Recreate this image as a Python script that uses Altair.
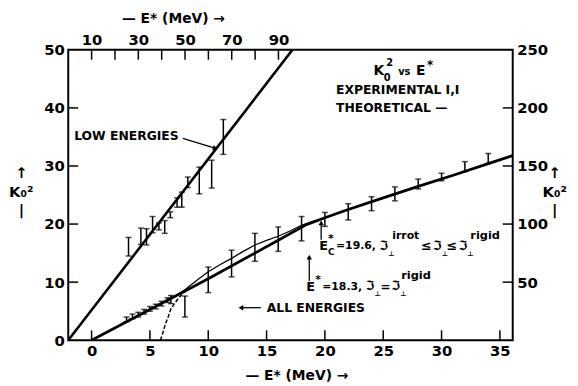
import altair as alt
import pandas as pd

# ---------------- data ----------------
# low-energy experimental points (top axis E*, MeV)
LOW_E = [25.8, 31.1, 33.5, 36.1, 38.8, 41.3, 43.7, 46.6, 48.6, 51.2, 56.1, 61.4, 66.4]
LOW_K = [16.1, 17.9, 17.8, 19.9, 19.6, 19.5, 21.6, 23.7, 24.2, 27.2, 27.5, 28.6, 35.0]
LOW_ERR = [1.6, 1.4, 1.4, 1.4, 0.6, 1.1, 0.5, 0.8, 1.3, 0.9, 2.3, 2.4, 3.0]
LOW_LINE_E = [0, 96]
LOW_LINE_K = [0, 50]

# all-energy experimental points (bottom axis E*, MeV)
ALL_E = [3, 3.5, 4, 4.5, 5, 5.5, 6, 6.5, 6.8, 8, 10, 12, 14, 16, 18, 20, 22, 24, 26, 28, 30, 32, 34]
ALL_K = [3.6, 4.1, 4.4, 4.9, 5.4, 5.8, 6.3, 6.9, 7.0, 5.8, 10.4, 13.2, 16.0, 17.4, 19.2, 20.8,
         22.1, 23.5, 25.2, 26.9, 28.1, 29.9, 31.3]
ALL_ERR = [0.4, 0.4, 0.4, 0.4, 0.4, 0.4, 0.4, 0.4, 0.7, 1.8, 2.2, 2.3, 2.4, 2.1, 2.1, 1.2,
           1.4, 1.2, 1.2, 0.85, 0.65, 0.85, 0.85]

# theoretical curves
THICK_E = [0, 5, 10, 14, 16, 18.3, 20, 22, 25, 28, 31, 34, 36.1]
THICK_K = [0, 5.3, 10.6, 15.0, 17.2, 19.8, 21.1, 22.5, 24.5, 26.5, 28.4, 30.4, 31.8]
THIN_E = [7.5, 8, 9, 10, 11, 12, 13, 14, 15, 16, 17, 18, 19, 19.6]
THIN_K = [8.0, 8.7, 10.3, 11.8, 13.0, 14.1, 15.3, 16.4, 17.2, 17.9, 18.8, 19.8, 20.5, 20.8]
DASH_E = [5.9, 6.1, 6.3, 6.6, 6.8, 7.1, 7.4, 7.8, 8.3]
DASH_K = [0, 1.2, 2.6, 4.2, 5.4, 6.3, 7.1, 8.0, 8.9]

# axes
BOTTOM_LABELS = [0, 5, 10, 15, 20, 25, 30, 35]
LEFT_LABELS = [0, 10, 20, 30, 40, 50]
TOP_LABELS = [10, 30, 50, 70, 90]
TOP_TICKS = [10, 20, 30, 40, 50, 60, 70, 80, 90]
RIGHT_LABELS = [50, 100, 150, 200, 250]
RIGHT_TICKS = [50, 100, 150, 200]
LEFT_TICKS = [10, 20, 30, 40]

# annotations (E, K, text, size)
ANN_E = [-1.49, 24.16, 25.05, 25.27, 26.28, 27.8, 28.75, 20.95, 20.95, 15.02,
         19.51, 20.27, 20.27, 20.95, 24.67, 25.43, 25.77, 28.23, 29.25, 30.01, 30.43, 31.45, 32.21, 32.47,
         18.41, 19.17, 19.77, 23.49, 24.25, 24.76, 25.69, 26.45, 26.54]
ANN_K = [35.2, 46.4, 45.2, 47.7, 46.1, 46.4, 47.4, 43.0, 40.0, 5.6,
         16.2, 15.1, 17.5, 16.2, 16.3, 14.9, 18.0, 16.2, 16.3, 14.9, 16.2, 16.3, 14.9, 18.0,
         9.2, 10.4, 9.2, 9.3, 8.0, 9.2, 9.3, 8.0, 11.05]
ANN_T = ["LOW ENERGIES", "K", "0", "2", "vs", "E", "*", "EXPERIMENTAL  I,I", "THEORETICAL —", "ALL  ENERGIES",
         "E", "C", "*", "=19.6,", "ℑ", "⊥", "irrot", "≤", "ℑ", "⊥", "≤", "ℑ", "⊥", "rigid",
         "E", "*", "=18.3,", "ℑ", "⊥", "=", "ℑ", "⊥", "rigid"]
ANN_S = [12.5, 14, 10, 10, 10, 14, 12, 12.5, 12.5, 12.5,
         13, 9, 11, 11, 13, 7, 11, 13, 13, 7, 13, 13, 7, 11.5,
         13, 11, 11, 13, 7, 12, 13, 7, 11.5]

# arrows (id, E, K) and heads (E, K, angle)
ARR_ID = ["low", "low", "all", "all", "ec", "ec", "e18", "e18"]
ARR_E = [7.82, 10.5, 12.9, 14.5, 19.68, 19.68, 18.66, 18.66]
ARR_K = [34.75, 33.1, 5.6, 5.6, 17.3, 20.0, 10.2, 14.0]
HEAD_E = [10.6, 12.8, 19.68, 18.66]
HEAD_K = [33.05, 5.6, 20.2, 14.3]
HEAD_A = [106, 270, 0, 0]

# ---------------- tables ----------------
low_df = pd.DataFrame({"Et": LOW_E, "K": LOW_K, "err": LOW_ERR})
low_df["lo"] = low_df.K - low_df.err
low_df["hi"] = low_df.K + low_df.err
low_line = pd.DataFrame({"Et": LOW_LINE_E, "K": LOW_LINE_K})

all_df = pd.DataFrame({"E": ALL_E, "K": ALL_K, "err": ALL_ERR})
all_df["lo"] = all_df.K - all_df.err
all_df["hi"] = all_df.K + all_df.err
thick = pd.DataFrame({"E": THICK_E, "K": THICK_K})
thin = pd.DataFrame({"E": THIN_E, "K": THIN_K})
dash = pd.DataFrame({"E": DASH_E, "K": DASH_K})
ann = pd.DataFrame({"E": ANN_E, "K": ANN_K, "t": ANN_T, "s": ANN_S})
arr = pd.DataFrame({"id": ARR_ID, "E": ARR_E, "K": ARR_K, "o": list(range(len(ARR_ID)))})
heads = pd.DataFrame({"E": HEAD_E, "K": HEAD_K, "a": HEAD_A})

bt = pd.DataFrame({"E": BOTTOM_LABELS, "K": 0.0, "K2": 1.7})
lt = pd.DataFrame({"E": -2.0, "E2": -1.15, "K": LEFT_TICKS})
rt = pd.DataFrame({"E": 35.25, "E2": 36.1, "K": [v / 5 for v in RIGHT_TICKS]})
tt = pd.DataFrame({"Et": TOP_TICKS, "K": 48.3, "K2": 50.0})

FONT = "DejaVu Sans"

bottom_axis = alt.Axis(orient="bottom", values=BOTTOM_LABELS, format="d",
                       title="— E* (MeV) →", titleX=231, titleY=36, titleAlign="center",
                       titleBaseline="middle", titleAngle=0, labelPadding=3)
left_axis = alt.Axis(orient="left", values=LEFT_LABELS, format="d",
                     title=["↑", "K₀²", "|"], titleX=-48, titleY=124, titleAngle=0,
                     titleAlign="center", titleBaseline="middle", titleLineHeight=19,
                     titleFontSize=15, labelPadding=4)
top_axis = alt.Axis(orient="top", values=TOP_LABELS, format="d",
                    title="— E* (MeV) →", titleX=106, titleY=-32, titleAlign="center",
                    titleBaseline="middle", titleAngle=0, labelPadding=2)
right_axis = alt.Axis(orient="right", values=RIGHT_LABELS, format="d",
                      title=["↑", "K₀²", "|"], titleX=42, titleY=124, titleAngle=0,
                      titleAlign="center", titleBaseline="middle", titleLineHeight=19,
                      titleFontSize=15, labelPadding=4)

xs = alt.Scale(domain=[-2, 36.1], nice=False, zero=False)
ys = alt.Scale(domain=[0, 50], nice=False, zero=False)
xts = alt.Scale(domain=[0, 190.3], nice=False, zero=False)


def XB(f="E"):
    return alt.X(f"{f}:Q", scale=xs, axis=bottom_axis)


def YL(f="K"):
    return alt.Y(f"{f}:Q", scale=ys, axis=left_axis)


def XT(f="Et"):
    return alt.X(f"{f}:Q", scale=xts, axis=top_axis)


def YT(f="K"):
    return alt.Y(f"{f}:Q", scale=ys, axis=None)


# ---------- bottom-axis layer ----------
a_bars = alt.Chart(all_df).mark_rule(strokeWidth=1.5, color="black").encode(
    x=XB(), y=YL("lo"), y2="hi")
a_cap1 = alt.Chart(all_df).mark_tick(orient="horizontal", size=6, thickness=1.5, color="black").encode(
    x=XB(), y=YL("lo"))
a_cap2 = alt.Chart(all_df).mark_tick(orient="horizontal", size=6, thickness=1.5, color="black").encode(
    x=XB(), y=YL("hi"))
thick_l = alt.Chart(thick).mark_line(strokeWidth=2.8, color="black", clip=True).encode(x=XB(), y=YL())
thin_l = alt.Chart(thin).mark_line(strokeWidth=1.3, color="black", clip=True).encode(x=XB(), y=YL())
dash_l = alt.Chart(dash).mark_line(strokeWidth=1.5, color="black", strokeDash=[4, 2], clip=True).encode(
    x=XB(), y=YL())
texts = alt.Chart(ann).mark_text(font=FONT, fontWeight="bold", align="left", baseline="middle",
                                 color="black").encode(
    x=XB(), y=YL(), text="t:N", size=alt.Size("s:Q", scale=None, legend=None))
arrows = alt.Chart(arr).mark_line(strokeWidth=1.3, color="black").encode(
    x=XB(), y=YL(), detail="id:N", order="o:Q")
arrowheads = alt.Chart(heads).mark_point(shape="triangle-up", filled=True, size=30, color="black",
                                         opacity=1).encode(
    x=XB(), y=YL(), angle=alt.Angle("a:Q", scale=None))
b_ticks = alt.Chart(bt).mark_rule(strokeWidth=1.5, color="black").encode(x=XB(), y=YL(), y2="K2")
l_ticks = alt.Chart(lt).mark_rule(strokeWidth=1.5, color="black").encode(x=XB(), x2="E2", y=YL())
r_ticks = alt.Chart(rt).mark_rule(strokeWidth=1.5, color="black").encode(x=XB(), x2="E2", y=YL())

layer_a = alt.layer(thick_l, thin_l, dash_l, a_bars, a_cap1, a_cap2, texts, arrows, arrowheads,
                    b_ticks, l_ticks, r_ticks)

# ---------- top-axis layer ----------
l_bars = alt.Chart(low_df).mark_rule(strokeWidth=1.5, color="black").encode(
    x=XT(), y=YT("lo"), y2="hi")
l_cap1 = alt.Chart(low_df).mark_tick(orient="horizontal", size=6, thickness=1.5, color="black").encode(
    x=XT(), y=YT("lo"))
l_cap2 = alt.Chart(low_df).mark_tick(orient="horizontal", size=6, thickness=1.5, color="black").encode(
    x=XT(), y=YT("hi"))
low_l = alt.Chart(low_line).mark_line(strokeWidth=2.6, color="black", clip=True).encode(x=XT(), y=YT())
t_ticks = alt.Chart(tt).mark_rule(strokeWidth=1.5, color="black").encode(x=XT(), y=YT(), y2="K2")

layer_b = alt.layer(low_l, l_bars, l_cap1, l_cap2, t_ticks)

# ---------- right axis ----------
layer_c = alt.Chart(pd.DataFrame({"R": RIGHT_LABELS})).mark_point(opacity=0).encode(
    y=alt.Y("R:Q", scale=alt.Scale(domain=[0, 250], nice=False, zero=False), axis=right_axis))

chart = alt.layer(layer_a, layer_b, layer_c).resolve_scale(
    x="independent", y="independent"
).properties(
    width=450, height=294,
    autosize=alt.AutoSizeParams(type="none"),
    padding={"left": 61, "top": 40, "right": 58, "bottom": 44},
    background="white",
).configure_view(
    stroke="black", strokeWidth=2
).configure_axis(
    labelFont=FONT, labelFontSize=15, labelFontWeight="bold", labelColor="black",
    titleFont=FONT, titleFontSize=14, titleFontWeight="bold", titleColor="black",
    grid=False, domain=False, ticks=False, tickSize=0,
)

chart.save("out.html", embed_options={"renderer": "svg", "actions": False})
